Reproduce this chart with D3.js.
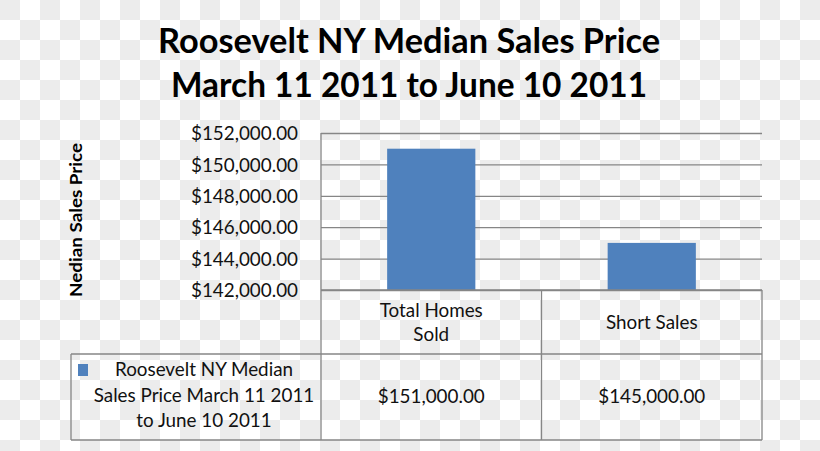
<!DOCTYPE html>
<html><head><meta charset="utf-8">
<script src="https://cdn.jsdelivr.net/npm/d3@7"></script>
<style>html,body{margin:0;padding:0;background:#fff;}svg{display:block;}</style>
</head><body>
<script>
// ---- data ----
const titleLines = ["Roosevelt NY Median Sales Price", "March 11 2011 to June 10 2011"];
const categories = ["Total Homes Sold", "Short Sales"];
const categoryLines = [["Total Homes", "Sold"], ["Short Sales"]];
const values = [151000, 145000];
const seriesName = "Roosevelt NY Median Sales Price March 11 2011 to June 10 2011";
const seriesLines = ["Roosevelt NY Median", "Sales Price March 11 2011", "to June 10 2011"];
const yTicks = [142000, 144000, 146000, 148000, 150000, 152000];
const yTitle = "Nedian Sales Price";

const W = 820, H = 451;
const plot = {l: 321, r: 762, t: 133, b: 290};
const table = {headBottom: 354, bottom: 440, legendLeft: 71};
const grid = "#868686", barColor = "#4F81BD";
const FONT = "Lato, 'Open Sans', sans-serif";
const BODY = 19;

const svg = d3.select("body").append("svg").attr("width", W).attr("height", H);

// checkerboard (transparent background look)
const defs = svg.append("defs");
const pat = defs.append("pattern").attr("id", "chk").attr("width", 40).attr("height", 40)
  .attr("patternUnits", "userSpaceOnUse");
pat.append("rect").attr("width", 40).attr("height", 40).attr("fill", "#ffffff");
pat.append("rect").attr("x", 0).attr("y", 0).attr("width", 20).attr("height", 20).attr("fill", "#ececec");
pat.append("rect").attr("x", 20).attr("y", 20).attr("width", 20).attr("height", 20).attr("fill", "#ececec");
svg.append("rect").attr("width", W).attr("height", H).attr("fill", "url(#chk)");

// scales
const y = d3.scaleLinear().domain([yTicks[0], yTicks[yTicks.length - 1]]).range([plot.b, plot.t]);
const x = d3.scaleBand().domain(categories).range([plot.l, plot.r]).padding(0);
const fmt = v => "$" + d3.format(",.2f")(v);

// title
const titleSizes = [{y: 53, w: 502}, {y: 97, w: 476}];
titleLines.forEach((t, i) => {
  svg.append("text").attr("x", 409).attr("y", titleSizes[i].y)
    .attr("text-anchor", "middle").attr("font-family", FONT).attr("font-weight", "bold")
    .attr("font-size", 35).attr("fill", "#000")
    .attr("textLength", titleSizes[i].w).attr("lengthAdjust", "spacingAndGlyphs")
    .text(t);
});

// gridlines via axis
const yAxis = d3.axisLeft(y).tickValues(yTicks).tickSize(-(plot.r - plot.l)).tickFormat(fmt);
const gA = svg.append("g").attr("transform", `translate(${plot.l},0)`).call(yAxis);
gA.select(".domain").remove();
gA.selectAll(".tick line").attr("stroke", grid).attr("stroke-width", 1.3);
gA.selectAll(".tick text").attr("x", -23).attr("dy", "0.35em")
  .attr("font-family", FONT).attr("font-size", BODY).attr("fill", "#111");

// bars
const bw = x.bandwidth() * 0.4;
svg.append("g").selectAll("rect").data(values).join("rect")
  .attr("x", (d, i) => x(categories[i]) + (x.bandwidth() - bw) / 2)
  .attr("width", bw)
  .attr("y", d => y(d))
  .attr("height", d => plot.b - y(d))
  .attr("fill", barColor);

// y axis title
svg.append("text").attr("transform", `translate(82,220) rotate(-90)`)
  .attr("text-anchor", "middle").attr("font-family", FONT).attr("font-weight", "bold")
  .attr("font-size", 17).attr("fill", "#000")
  .attr("textLength", 154).attr("lengthAdjust", "spacingAndGlyphs")
  .text(yTitle);

// data table lines
const lines = svg.append("g").attr("stroke", grid).attr("stroke-width", 1.3).attr("fill", "none");
const hline = (x1, x2, yy) => lines.append("line").attr("x1", x1).attr("x2", x2).attr("y1", yy).attr("y2", yy);
const vline = (xx, y1, y2) => lines.append("line").attr("x1", xx).attr("x2", xx).attr("y1", y1).attr("y2", y2);
hline(plot.l, plot.r, plot.b);
hline(table.legendLeft, plot.r, table.headBottom);
hline(table.legendLeft, plot.r, table.bottom);
vline(plot.l, plot.t, table.bottom);
categories.forEach(c => vline(x(c) + x.bandwidth(), plot.b, table.bottom));
vline(table.legendLeft, table.headBottom, table.bottom);

// body text compression factor (to mimic a narrow font)
const probe = svg.append("text").attr("font-family", FONT).attr("font-size", BODY).text(fmt(yTicks[5]));
const factor = 107 / probe.node().getComputedTextLength();
probe.remove();
function body(sel) {
  sel.each(function () {
    const len = this.getComputedTextLength();
    d3.select(this).attr("textLength", len * factor).attr("lengthAdjust", "spacingAndGlyphs");
  });
  return sel;
}
body(gA.selectAll(".tick text"));

// category header
const tg = svg.append("g").attr("font-family", FONT).attr("font-size", BODY).attr("fill", "#111").attr("text-anchor", "middle");
categories.forEach((c, i) => {
  const cx = x(c) + x.bandwidth() / 2;
  const ls = categoryLines[i];
  const y0 = ls.length === 1 ? 329 : 317;
  ls.forEach((l, j) => body(tg.append("text").attr("x", cx).attr("y", y0 + j * 24).text(l)));
  body(tg.append("text").attr("x", cx).attr("y", 403).text(fmt(values[i])));
});

// legend cell
svg.append("rect").attr("x", 78).attr("y", 364).attr("width", 10).attr("height", 12).attr("fill", barColor);
seriesLines.forEach((l, j) => body(tg.append("text").attr("x", 204).attr("y", 376 + j * 25.5).text(l)));
</script>
</body></html>
